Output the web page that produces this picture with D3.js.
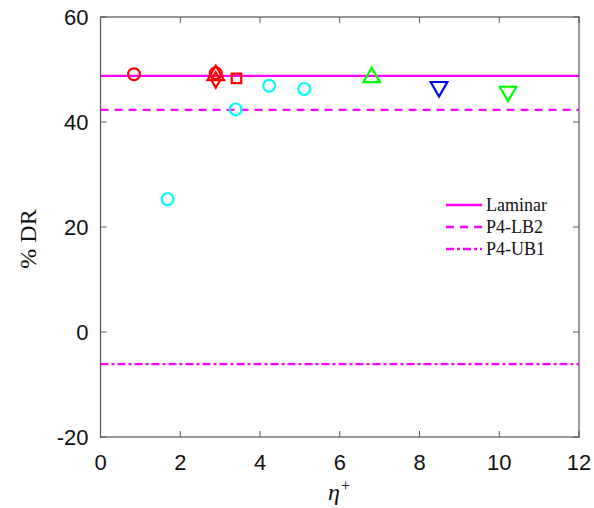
<!DOCTYPE html>
<html>
<head>
<meta charset="utf-8">
<script src="https://cdn.jsdelivr.net/npm/d3@7"></script>
<style>
  html, body { margin: 0; padding: 0; background: #fff; }
  svg { display: block; }
</style>
</head>
<body>
<svg id="chart" width="594" height="508"></svg>
<script>
// Drag reduction (%DR) versus eta+ for several cases
const xTicks = [0, 2, 4, 6, 8, 10, 12];
const yTicks = [-20, 0, 20, 40, 60];

// Reference levels drawn as horizontal lines
const refNames = ["Laminar", "P4-LB2", "P4-UB1"];
const refValues = [48.8, 42.3, -6.1];
const refDash = ["none", "8,6", "8,3,3,3"];

// Marker data: eta+, %DR, symbol, colour
const ptX = [0.84, 2.89, 2.89, 2.89, 3.41, 3.39, 1.68, 4.23, 5.11, 6.80, 8.49, 10.22];
const ptY = [49.1, 49.3, 48.9, 48.0, 48.3, 42.4, 25.3, 46.9, 46.3, 48.5, 46.7, 45.8];
const ptShape = ["circle", "circle", "triUp", "diamond", "square", "circle", "circle", "circle", "circle", "triUp", "triDown", "triDown"];
const ptColor = ["#ff0000", "#ff0000", "#ff0000", "#ff0000", "#ff0000", "#00ffff", "#00ffff", "#00ffff", "#00ffff", "#00ff00", "#0000ff", "#00ff00"];

const svg = d3.select("#chart");
const mLeft = 100.5, mRight = 579, mTop = 17, mBottom = 437;

const x = d3.scaleLinear().domain([0, 12]).range([mLeft, mRight]);
const y = d3.scaleLinear().domain([-20, 60]).range([mBottom, mTop]);

const axisColor = "#555";
const tickFont = "'Liberation Sans', Arial, sans-serif";
const serif = "'Liberation Serif', 'DejaVu Serif', serif";

// Reference lines
const refG = svg.append("g");
refValues.forEach((v, i) => {
  refG.append("line")
    .attr("x1", x(0)).attr("x2", x(12))
    .attr("y1", y(v)).attr("y2", y(v))
    .attr("stroke", "#ff00ff").attr("stroke-width", 2.3)
    .attr("stroke-dasharray", refDash[i]);
});

// Frame with inward ticks on all four sides
const frame = svg.append("g");
frame.append("rect")
  .attr("x", mLeft).attr("y", mTop)
  .attr("width", mRight - mLeft).attr("height", mBottom - mTop)
  .attr("fill", "none").attr("stroke", axisColor).attr("stroke-width", 1.2);

const tl = 6;
xTicks.forEach(t => {
  frame.append("line").attr("x1", x(t)).attr("x2", x(t)).attr("y1", mBottom).attr("y2", mBottom - tl).attr("stroke", axisColor);
  frame.append("line").attr("x1", x(t)).attr("x2", x(t)).attr("y1", mTop).attr("y2", mTop + tl).attr("stroke", axisColor);
  svg.append("text").attr("x", x(t)).attr("y", mBottom + 33)
    .attr("text-anchor", "middle").attr("font-family", tickFont).attr("font-size", 22)
    .attr("fill", "#111").text(t);
});
yTicks.forEach(t => {
  frame.append("line").attr("x1", mLeft).attr("x2", mLeft + tl).attr("y1", y(t)).attr("y2", y(t)).attr("stroke", axisColor);
  frame.append("line").attr("x1", mRight).attr("x2", mRight - tl).attr("y1", y(t)).attr("y2", y(t)).attr("stroke", axisColor);
  svg.append("text").attr("x", mLeft - 12).attr("y", y(t) + 8)
    .attr("text-anchor", "end").attr("font-family", tickFont).attr("font-size", 22)
    .attr("fill", "#111").text(t);
});

// Axis titles
svg.append("text")
  .attr("transform", `translate(36,${(mTop + mBottom) / 2 + 12}) rotate(-90)`)
  .attr("text-anchor", "middle").attr("font-family", serif).attr("font-size", 24)
  .attr("fill", "#111").text("% DR");

const xl = svg.append("text").attr("x", 339).attr("y", 500)
  .attr("text-anchor", "middle").attr("font-family", serif).attr("font-size", 24).attr("fill", "#111");
xl.append("tspan").attr("font-style", "italic").text("η");
xl.append("tspan").attr("font-size", 16).attr("dy", -9).attr("dx", 1).text("+");

// Markers
const sym = {
  circle: d3.symbol().type(d3.symbolCircle).size(110),
  triUp: d3.symbol().type(d3.symbolTriangle).size(120),
  triDown: d3.symbol().type(d3.symbolTriangle).size(120),
  square: d3.symbol().type(d3.symbolSquare).size(90),
  diamond: d3.symbol().type(d3.symbolDiamond).size(70)
};
const pts = svg.append("g");
ptX.forEach((px, i) => {
  const s = ptShape[i];
  pts.append("path")
    .attr("d", sym[s]())
    .attr("transform", `translate(${x(px)},${y(ptY[i])})` + (s === "triDown" ? " rotate(180)" : ""))
    .attr("fill", "none").attr("stroke", ptColor[i]).attr("stroke-width", 2.2);
});

// Legend
const lg = svg.append("g");
refNames.forEach((n, i) => {
  const ly = 205 + i * 22;
  lg.append("line").attr("x1", 446).attr("x2", 482).attr("y1", ly).attr("y2", ly)
    .attr("stroke", "#ff00ff").attr("stroke-width", 2.3).attr("stroke-dasharray", refDash[i]);
  lg.append("text").attr("x", 486).attr("y", ly + 6)
    .attr("font-family", serif).attr("font-size", 18).attr("fill", "#111").text(n);
});
</script>
</body>
</html>
